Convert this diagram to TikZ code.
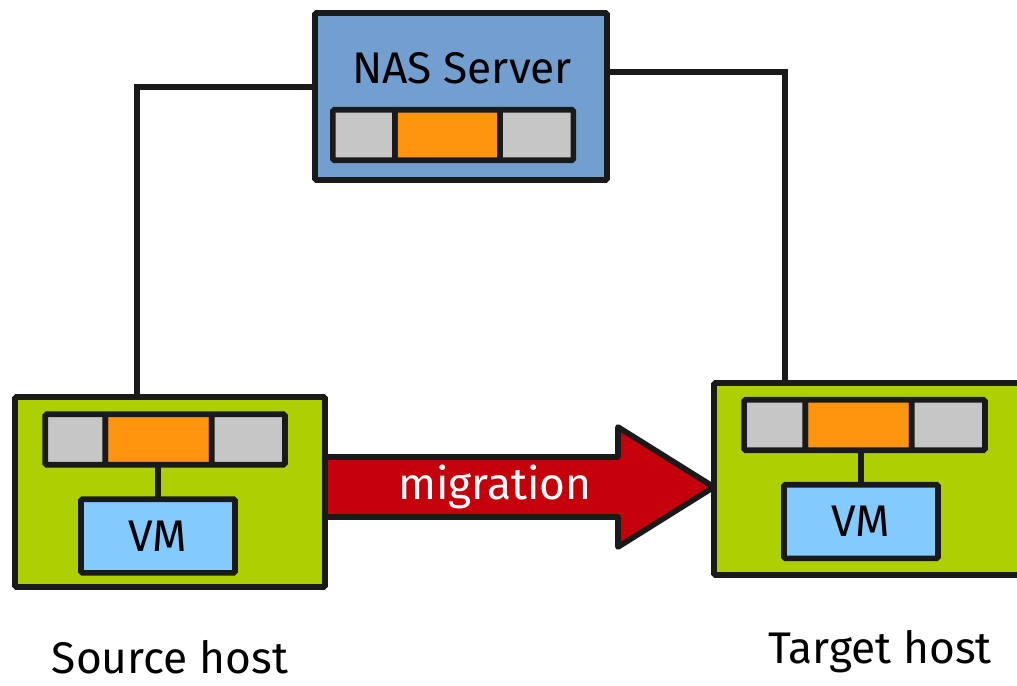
\documentclass[tikz,border=0pt]{standalone}
\usepackage{fontspec}
\setmainfont{Fira Sans}
\usepackage{xcolor}
\usetikzlibrary{positioning}

\definecolor{nasblue}{HTML}{729FCF}
\definecolor{hostgreen}{HTML}{AECF00}
\definecolor{slotgray}{HTML}{C6C6C6}
\definecolor{slotorange}{HTML}{FF950E}
\definecolor{vmblue}{HTML}{83CAFF}
\definecolor{migred}{HTML}{C5000B}
\definecolor{edge}{HTML}{1A1A1A}

\begin{document}
\begin{tikzpicture}[x=0.025cm,y=-0.025cm,line width=4pt,font=\fontsize{31.5}{38}\selectfont]
  \tikzstyle{box}=[rectangle,draw=edge,rounded corners=1pt,inner sep=0pt,outer sep=0pt]
  \tikzstyle{host}=[box,fill=hostgreen,minimum height=4.75cm]
  \tikzstyle{gray}=[box,fill=slotgray,minimum height=1.26cm]
  \tikzstyle{orange}=[box,fill=slotorange,minimum height=1.26cm,minimum width=2.66cm]
  \tikzstyle{vm}=[box,fill=vmblue,minimum width=3.85cm,minimum height=1.84cm]
  \tikzstyle{link}=[draw=edge,line width=4pt]
  \tikzstyle{migarrow}=[draw=edge,fill=migred,line join=round]
  \tikzstyle{caption}=[inner sep=0pt]

  \useasboundingbox (0,0) rectangle (1017,685);

  % NAS server
  \node[box,fill=nasblue,minimum width=7.3cm,minimum height=4.175cm] (nas) at (461,96.5) {};
  \node (nastext) at (462,68) {NAS Server};
  \node[orange,minimum width=2.63cm] (nasmid) at (447.5,135) {};
  \node[gray,minimum width=1.55cm,left=0pt of nasmid] (nasleft) {};
  \node[gray,minimum width=1.83cm,right=0pt of nasmid] (nasright) {};

  % source host
  \node[host,minimum width=7.75cm] (src) at (170,492) {};
  \node[orange] (srcmid) at (158.5,439.5) {};
  \node[gray,minimum width=1.5cm,left=0pt of srcmid] (srcleft) {};
  \node[gray,minimum width=1.83cm,right=0pt of srcmid] (srcright) {};
  \node[vm] (srcvm) at (158,536) {VM};
  \draw[link] (srcmid.south -| srcvm.north) -- (srcvm.north);

  % target host
  \node[host,minimum width=7.9cm,minimum height=4.8cm] (tgt) at (872,479) {};
  \node[orange] (tgtmid) at (858.5,425) {};
  \node[gray,minimum width=1.53cm,left=0pt of tgtmid] (tgtleft) {};
  \node[gray,minimum width=1.83cm,right=0pt of tgtmid] (tgtright) {};
  \node[vm] (tgtvm) at (861,521.5) {VM};
  \draw[link] (tgtmid.south -| tgtvm.north) -- (tgtvm.north);

  % links to the NAS
  \draw[link] (src.north -| 137,0) |- ([yshift=0.24cm]nas.west);
  \draw[link] (tgt.north -| 785,0) |- ([yshift=0.61cm]nas.east);

  % migration
  \coordinate (migtail) at (src.east |- 0,487);
  \coordinate (migtip) at (tgt.west |- 0,487);
  \draw[migarrow] ([yshift=0.75cm]migtail) -- ([xshift=-2.4cm,yshift=0.75cm]migtip)
    -- ([xshift=-2.4cm,yshift=1.5cm]migtip) -- (migtip)
    -- ([xshift=-2.4cm,yshift=-1.5cm]migtip) -- ([xshift=-2.4cm,yshift=-0.75cm]migtip)
    -- ([yshift=-0.75cm]migtail) -- cycle;
  \node[text=white] (migtext) at (495,487) {migration};

  % labels
  \node[caption] (srclabel) at (170,657) {Source host};
  \node[caption] (tgtlabel) at (880,652) {Target host};
\end{tikzpicture}
\end{document}
